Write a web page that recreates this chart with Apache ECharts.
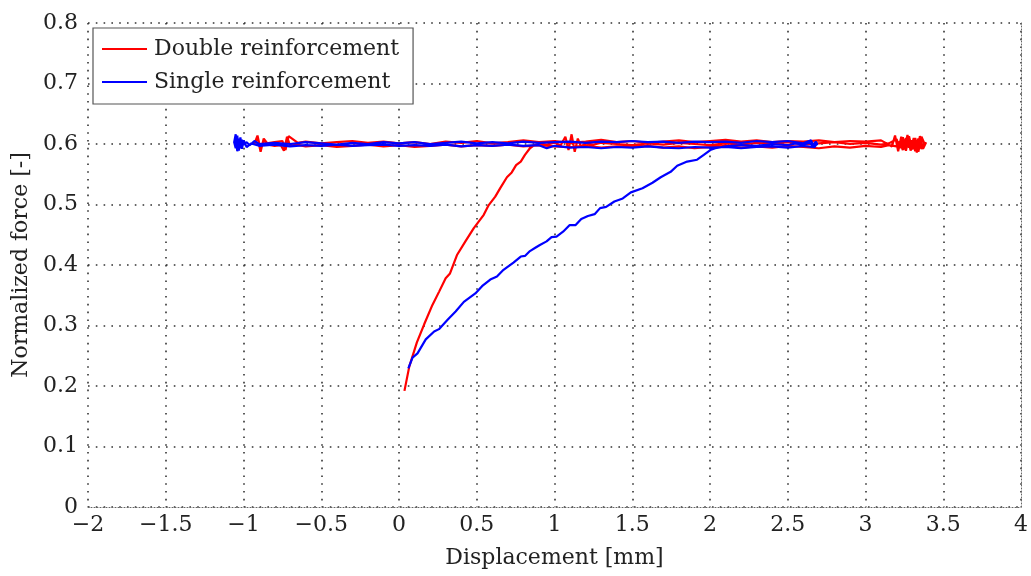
<!DOCTYPE html>
<html>
<head>
<meta charset="utf-8">
<script src="https://cdn.jsdelivr.net/npm/echarts@6/dist/echarts.min.js"></script>
<style>
  html, body { margin: 0; padding: 0; background: #fff; }
  #chart { width: 1031px; height: 576px; }
</style>
</head>
<body>
<div id="chart"></div>
<script>
// Tick labels
const xTicks = [-2, -1.5, -1, -0.5, 0, 0.5, 1, 1.5, 2, 2.5, 3, 3.5, 4];
const yTicks = [0, 0.1, 0.2, 0.3, 0.4, 0.5, 0.6, 0.7, 0.8];

// Double reinforcement: loading branch
const dblLoadX = [0.035, 0.066, 0.115, 0.162, 0.215, 0.258, 0.300, 0.328, 0.374, 0.427, 0.481, 0.545, 0.577, 0.619, 0.651, 0.694, 0.725, 0.753, 0.783, 0.810, 0.842, 0.870];
const dblLoadY = [0.192, 0.232, 0.272, 0.302, 0.334, 0.356, 0.378, 0.386, 0.417, 0.439, 0.461, 0.483, 0.499, 0.513, 0.527, 0.545, 0.553, 0.565, 0.571, 0.582, 0.593, 0.598];
// Double reinforcement: plateau, first pass to the right
const dblRun1X = [0.90, 0.95, 1.00, 1.04, 1.07, 1.09, 1.11, 1.13, 1.15, 1.17, 1.20, 1.25, 1.30, 1.40, 1.50, 1.60, 1.70, 1.80, 1.90, 2.00, 2.10, 2.20, 2.30, 2.40, 2.50, 2.60, 2.70, 2.80, 2.90, 3.00, 3.10, 3.15, 3.20, 3.22, 3.24, 3.26, 3.28, 3.30, 3.32, 3.34, 3.36, 3.38];
const dblRun1Y = [0.601, 0.599, 0.602, 0.598, 0.612, 0.590, 0.616, 0.587, 0.609, 0.596, 0.601, 0.599, 0.602, 0.600, 0.598, 0.601, 0.599, 0.602, 0.600, 0.598, 0.601, 0.599, 0.602, 0.600, 0.603, 0.599, 0.601, 0.603, 0.600, 0.602, 0.599, 0.601, 0.608, 0.593, 0.611, 0.589, 0.613, 0.591, 0.610, 0.587, 0.612, 0.600];
// Double reinforcement: plateau, pass back to the left
const dblRun2X = [3.38, 3.36, 3.34, 3.32, 3.30, 3.28, 3.26, 3.24, 3.22, 3.20, 3.15, 3.10, 3.00, 2.90, 2.80, 2.70, 2.60, 2.50, 2.40, 2.30, 2.20, 2.10, 2.00, 1.90, 1.80, 1.70, 1.60, 1.50, 1.40, 1.30, 1.20, 1.10, 1.00, 0.90, 0.80, 0.70, 0.60, 0.50, 0.40, 0.30, 0.20, 0.10, 0.00, -0.10, -0.20, -0.30, -0.40, -0.50, -0.60, -0.66, -0.70, -0.72, -0.74, -0.76, -0.80, -0.84, -0.87, -0.89, -0.91, -0.93];
const dblRun2Y = [0.600, 0.592, 0.609, 0.588, 0.606, 0.594, 0.610, 0.590, 0.604, 0.596, 0.598, 0.595, 0.597, 0.594, 0.596, 0.593, 0.595, 0.597, 0.594, 0.596, 0.594, 0.597, 0.595, 0.593, 0.596, 0.594, 0.597, 0.595, 0.596, 0.594, 0.597, 0.595, 0.596, 0.598, 0.596, 0.599, 0.597, 0.598, 0.596, 0.599, 0.597, 0.595, 0.598, 0.596, 0.599, 0.597, 0.595, 0.598, 0.596, 0.599, 0.597, 0.612, 0.589, 0.598, 0.597, 0.599, 0.609, 0.587, 0.611, 0.600];
// Double reinforcement: plateau, second pass to the right
const dblRun3X = [-0.93, -0.91, -0.89, -0.87, -0.85, -0.80, -0.75, -0.73, -0.71, -0.65, -0.60, -0.50, -0.40, -0.30, -0.20, -0.10, 0.00, 0.10, 0.20, 0.30, 0.40, 0.50, 0.60, 0.70, 0.80, 0.90, 1.00, 1.10, 1.20, 1.30, 1.40, 1.50, 1.60, 1.70, 1.80, 1.90, 2.00, 2.10, 2.20, 2.30, 2.40, 2.50, 2.60, 2.70, 2.80, 2.90, 3.00, 3.10, 3.17, 3.19, 3.21, 3.23, 3.25, 3.27, 3.29, 3.31, 3.33, 3.35, 3.37, 3.39];
const dblRun3Y = [0.600, 0.614, 0.590, 0.606, 0.601, 0.603, 0.605, 0.590, 0.613, 0.602, 0.604, 0.601, 0.603, 0.605, 0.602, 0.604, 0.601, 0.603, 0.600, 0.604, 0.602, 0.605, 0.601, 0.603, 0.606, 0.603, 0.605, 0.602, 0.604, 0.607, 0.603, 0.605, 0.602, 0.604, 0.606, 0.603, 0.605, 0.607, 0.604, 0.606, 0.603, 0.605, 0.604, 0.606, 0.603, 0.605, 0.604, 0.606, 0.596, 0.614, 0.588, 0.612, 0.591, 0.615, 0.589, 0.610, 0.586, 0.613, 0.592, 0.603];

// Single reinforcement: loading branch
const sglLoadX = [0.060, 0.087, 0.119, 0.172, 0.226, 0.257, 0.311, 0.364, 0.417, 0.491, 0.534, 0.587, 0.630, 0.672, 0.736, 0.783, 0.810, 0.842, 0.874, 0.906, 0.949, 0.981, 1.013, 1.055, 1.098, 1.136, 1.172, 1.215, 1.258, 1.293, 1.332, 1.385, 1.439, 1.491, 1.566, 1.630, 1.683, 1.747, 1.789, 1.853, 1.917, 1.960, 2.002, 2.034];
const sglLoadY = [0.229, 0.247, 0.254, 0.277, 0.290, 0.294, 0.309, 0.323, 0.339, 0.353, 0.365, 0.376, 0.381, 0.392, 0.404, 0.414, 0.415, 0.423, 0.428, 0.433, 0.439, 0.446, 0.447, 0.455, 0.466, 0.466, 0.476, 0.481, 0.484, 0.494, 0.496, 0.505, 0.510, 0.520, 0.527, 0.536, 0.545, 0.554, 0.564, 0.571, 0.574, 0.582, 0.590, 0.593];
// Single reinforcement: plateau passes
const sglRun1X = [2.10, 2.20, 2.30, 2.40, 2.50, 2.55, 2.60, 2.64, 2.66, 2.68, 2.69];
const sglRun1Y = [0.596, 0.598, 0.597, 0.600, 0.598, 0.601, 0.599, 0.602, 0.597, 0.604, 0.600];
const sglRun2X = [2.69, 2.66, 2.60, 2.50, 2.40, 2.30, 2.20, 2.10, 2.00, 1.90, 1.80, 1.70, 1.60, 1.50, 1.40, 1.30, 1.20, 1.10, 1.00, 0.95, 0.90, 0.80, 0.70, 0.60, 0.50, 0.40, 0.30, 0.20, 0.10, 0.00, -0.10, -0.20, -0.30, -0.40, -0.50, -0.60, -0.70, -0.80, -0.90, -0.95, -0.98, -1.00, -1.01, -1.02, -1.03, -1.04, -1.05, -1.06];
const sglRun2Y = [0.600, 0.595, 0.597, 0.594, 0.596, 0.595, 0.593, 0.595, 0.594, 0.595, 0.593, 0.594, 0.596, 0.594, 0.595, 0.593, 0.595, 0.594, 0.597, 0.593, 0.598, 0.597, 0.599, 0.597, 0.598, 0.596, 0.599, 0.597, 0.598, 0.597, 0.599, 0.598, 0.597, 0.599, 0.597, 0.598, 0.596, 0.599, 0.597, 0.601, 0.595, 0.606, 0.592, 0.611, 0.589, 0.614, 0.593, 0.603];
const sglRun3X = [-1.06, -1.05, -1.04, -1.03, -1.02, -1.01, -1.00, -0.98, -0.96, -0.93, -0.90, -0.80, -0.70, -0.60, -0.50, -0.40, -0.30, -0.20, -0.10, 0.00, 0.10, 0.20, 0.30, 0.40, 0.50, 0.60, 0.70, 0.80, 0.90, 1.00, 1.10, 1.20, 1.30, 1.40, 1.50, 1.60, 1.70, 1.80, 1.90, 2.00, 2.10, 2.20, 2.30, 2.40, 2.50, 2.60, 2.65, 2.67, 2.69];
const sglRun3Y = [0.603, 0.616, 0.588, 0.609, 0.593, 0.607, 0.599, 0.603, 0.598, 0.605, 0.600, 0.602, 0.600, 0.603, 0.601, 0.599, 0.602, 0.600, 0.603, 0.601, 0.603, 0.600, 0.602, 0.604, 0.601, 0.603, 0.601, 0.604, 0.602, 0.603, 0.604, 0.602, 0.604, 0.603, 0.605, 0.603, 0.604, 0.602, 0.604, 0.603, 0.604, 0.602, 0.605, 0.603, 0.605, 0.601, 0.606, 0.594, 0.602];

function zip(xs, ys) {
  const n = Math.min(xs.length, ys.length);
  const out = [];
  for (let i = 0; i < n; i++) out.push([xs[i], ys[i]]);
  return out;
}
function path(...parts) {
  let out = [];
  for (let i = 0; i < parts.length; i += 2) out = out.concat(zip(parts[i], parts[i + 1]));
  return out;
}

const doubleData = path(dblLoadX, dblLoadY, dblRun1X, dblRun1Y, dblRun2X, dblRun2Y, dblRun3X, dblRun3Y);
const singleData = path(sglLoadX, sglLoadY, sglRun1X, sglRun1Y, sglRun2X, sglRun2Y, sglRun3X, sglRun3Y);

const FONT = 'DejaVu Serif';
const TXT = '#222';
const SIZE = 22;
const fmtNum = v => {
  const r = parseFloat(Number(v).toFixed(2));
  return (r < 0 ? '\u2212' : '') + Math.abs(r);
};
const dotted = { color: '#333', width: 1.6, type: [1.6, 6.2] };
const dense = { color: '#666', width: 1, type: [1, 2] };

const chart = echarts.init(document.getElementById('chart'), null, { renderer: 'canvas' });
chart.setOption({
  animation: false,
  backgroundColor: '#fff',
  grid: { left: 88, right: 3, top: 23, bottom: 69, containLabel: false },
  legend: {
    left: 93, top: 28,
    orient: 'vertical',
    data: ['Double reinforcement', 'Single reinforcement'],
    icon: 'rect',
    itemWidth: 45, itemHeight: 2,
    itemGap: 9,
    padding: [9, 14, 10, 9],
    backgroundColor: '#fff',
    borderColor: '#555',
    borderWidth: 1.2,
    borderRadius: 0,
    textStyle: { fontFamily: FONT, fontSize: SIZE, color: TXT, lineHeight: 24, padding: [0, 0, 0, 2] }
  },
  xAxis: {
    type: 'value',
    min: xTicks[0], max: xTicks[xTicks.length - 1], interval: 0.5,
    name: 'Displacement [mm]',
    nameLocation: 'middle', nameGap: 40,
    nameTextStyle: { fontFamily: FONT, fontSize: SIZE, color: TXT },
    axisLine: { show: true, lineStyle: dense },
    axisTick: { show: false },
    axisLabel: { fontFamily: FONT, fontSize: SIZE, color: TXT, margin: 7, formatter: fmtNum },
    splitLine: { show: true, lineStyle: dotted }
  },
  yAxis: [{
    type: 'value',
    min: yTicks[0], max: yTicks[yTicks.length - 1], interval: 0.1,
    name: 'Normalized force [-]',
    nameLocation: 'middle', nameGap: 52,
    nameTextStyle: { fontFamily: FONT, fontSize: SIZE, color: TXT },
    axisLine: { show: false },
    axisTick: { show: false },
    axisLabel: { fontFamily: FONT, fontSize: SIZE, color: TXT, margin: 10, formatter: fmtNum },
    splitLine: { show: true, lineStyle: dotted }
  }, {
    type: 'value', position: 'right',
    min: yTicks[0], max: yTicks[yTicks.length - 1], interval: 0.1,
    axisLine: { show: true, lineStyle: dense },
    axisTick: { show: false },
    axisLabel: { show: false },
    splitLine: { show: false }
  }],
  series: [{
    name: 'Double reinforcement',
    type: 'line',
    data: doubleData,
    showSymbol: false, symbol: 'none',
    color: '#ff0000',
    lineStyle: { color: '#ff0000', width: 2.2 },
    z: 3
  }, {
    name: 'Single reinforcement',
    type: 'line',
    data: singleData,
    showSymbol: false, symbol: 'none',
    color: '#0000ff',
    lineStyle: { color: '#0000ff', width: 2.2 },
    z: 4
  }]
});
</script>
</body>
</html>
